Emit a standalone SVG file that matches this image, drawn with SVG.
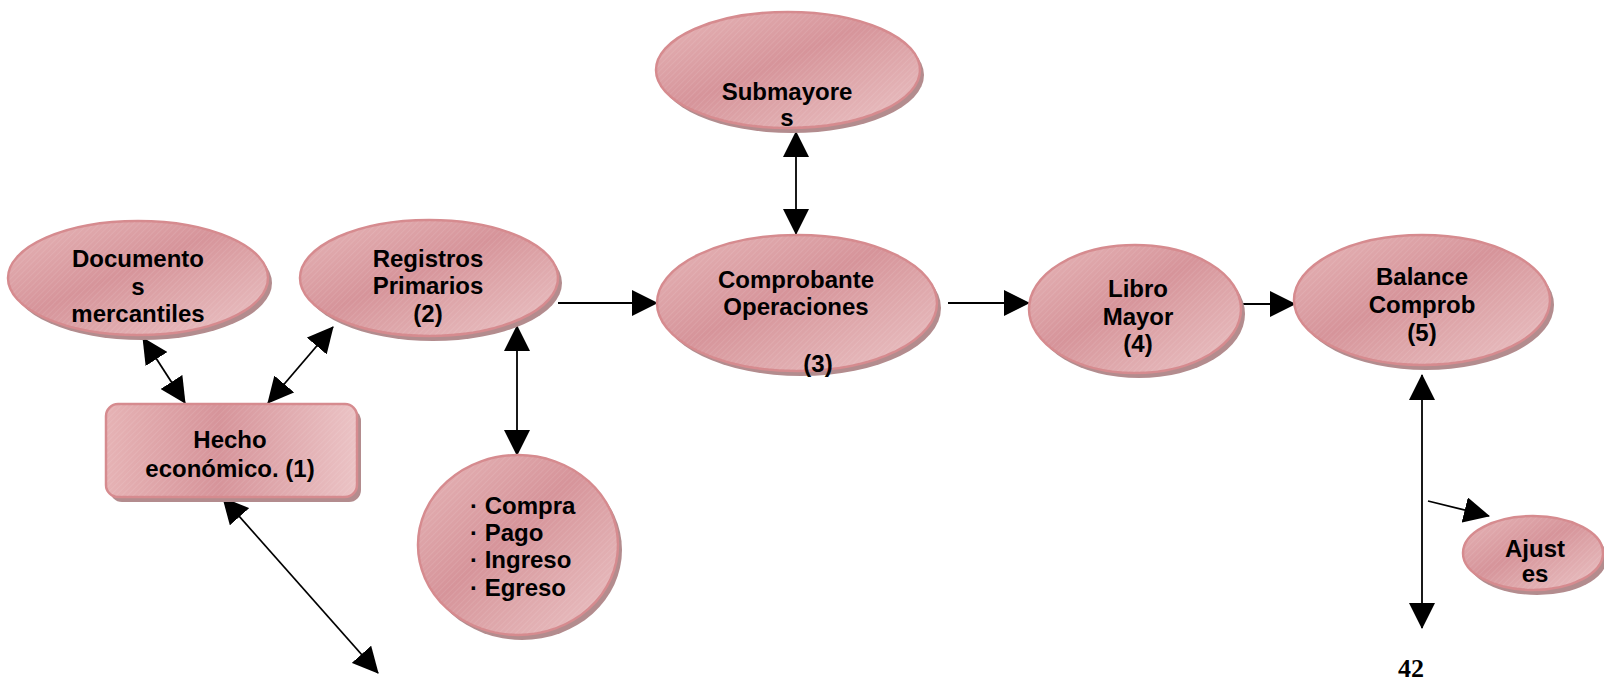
<svg xmlns="http://www.w3.org/2000/svg" width="1604" height="681" viewBox="0 0 1604 681">
<defs>
<linearGradient id="fillG" x1="0" y1="0" x2="1" y2="1">
<stop offset="0" stop-color="#e6b6b8"/>
<stop offset="0.45" stop-color="#d6949a"/>
<stop offset="0.6" stop-color="#dca2a6"/>
<stop offset="1" stop-color="#ebc4c6"/>
</linearGradient>
<linearGradient id="fillH" x1="0" y1="0" x2="1" y2="0">
<stop offset="0" stop-color="#e6b3b5"/>
<stop offset="0.45" stop-color="#d6949a"/>
<stop offset="1" stop-color="#ebc3c5"/>
</linearGradient>
<pattern id="hatch" width="4" height="4" patternUnits="userSpaceOnUse" patternTransform="rotate(45)">
<line x1="0" y1="0" x2="0" y2="4" stroke="#ffffff" stroke-width="1" stroke-opacity="0.18"/>
</pattern>
<marker id="ah" markerUnits="userSpaceOnUse" markerWidth="26" markerHeight="26" viewBox="0 0 26 26" refX="25" refY="13" orient="auto-start-reverse">
<path d="M0,0 L26,13 L0,26 z" fill="#000"/>
</marker>
</defs>
<style>
.sh{fill:#b38c8e}
.nd{fill:url(#fillG);stroke:#d68b8f;stroke-width:2.5}
.ht{fill:url(#hatch);stroke:none}
.tx{font-family:"Liberation Sans",Arial,sans-serif;font-weight:bold;font-size:24px;fill:#000;text-anchor:middle}
.tl{text-anchor:start}
.cn{stroke:#000;stroke-width:1.8;fill:none}
</style>

<g id="connectors">
<line class="cn" x1="143" y1="338" x2="185" y2="403" marker-start="url(#ah)" marker-end="url(#ah)"/>
<line class="cn" x1="268" y1="403" x2="333" y2="327" marker-start="url(#ah)" marker-end="url(#ah)"/>
<line class="cn" x1="558" y1="303" x2="657" y2="303" marker-end="url(#ah)"/>
<line class="cn" x1="517" y1="326" x2="517" y2="455" marker-start="url(#ah)" marker-end="url(#ah)"/>
<line class="cn" x1="796" y1="132" x2="796" y2="234" marker-start="url(#ah)" marker-end="url(#ah)"/>
<line class="cn" x1="948" y1="303" x2="1029" y2="303" marker-end="url(#ah)"/>
<line class="cn" x1="1240" y1="304" x2="1295" y2="304" marker-end="url(#ah)"/>
<line class="cn" x1="1422" y1="375" x2="1422" y2="628" marker-start="url(#ah)" marker-end="url(#ah)"/>
<line class="cn" x1="1428" y1="501" x2="1489" y2="516" marker-end="url(#ah)"/>
<line class="cn" x1="223" y1="498" x2="378" y2="673" marker-start="url(#ah)" marker-end="url(#ah)"/>
</g>

<g id="documentos">
<ellipse class="sh" cx="142" cy="283" rx="130" ry="57"/>
<ellipse class="nd" cx="138" cy="278" rx="130" ry="57"/>
<ellipse class="ht" cx="138" cy="278" rx="129" ry="56"/>
<text class="tx" x="138" y="267">Documento</text>
<text class="tx" x="138" y="295">s</text>
<text class="tx" x="138" y="322">mercantiles</text>
</g>

<g id="registros">
<ellipse class="sh" cx="433" cy="283" rx="129" ry="58"/>
<ellipse class="nd" cx="429" cy="278" rx="129" ry="58"/>
<ellipse class="ht" cx="429" cy="278" rx="128" ry="57"/>
<text class="tx" x="428" y="267">Registros</text>
<text class="tx" x="428" y="294">Primarios</text>
<text class="tx" x="428" y="322">(2)</text>
</g>

<g id="hecho">
<rect class="sh" x="110" y="409" width="251" height="93" rx="12"/>
<rect x="106" y="404" width="251" height="93" rx="12" fill="url(#fillH)" stroke="#d68b8f" stroke-width="2.5"/>
<rect class="ht" x="107" y="405" width="249" height="91" rx="11"/>
<text class="tx" x="230" y="448">Hecho</text>
<text class="tx" x="230" y="477">económico. (1)</text>
</g>

<g id="compra">
<ellipse class="sh" cx="522" cy="550" rx="100" ry="90"/>
<ellipse class="nd" cx="518" cy="545" rx="100" ry="90"/>
<ellipse class="ht" cx="518" cy="545" rx="99" ry="89"/>
<text class="tx tl" x="470" y="514">· Compra</text>
<text class="tx tl" x="470" y="541">· Pago</text>
<text class="tx tl" x="470" y="568">· Ingreso</text>
<text class="tx tl" x="470" y="596">· Egreso</text>
</g>

<g id="submayores">
<ellipse class="sh" cx="792" cy="75" rx="132" ry="58"/>
<ellipse class="nd" cx="788" cy="70" rx="132" ry="58"/>
<ellipse class="ht" cx="788" cy="70" rx="131" ry="57"/>
<text class="tx" x="787" y="100">Submayore</text>
<text class="tx" x="787" y="126">s</text>
</g>

<g id="comprobante">
<ellipse class="sh" cx="801" cy="308" rx="140" ry="68"/>
<ellipse class="nd" cx="797" cy="303" rx="140" ry="68"/>
<ellipse class="ht" cx="797" cy="303" rx="139" ry="67"/>
<text class="tx" x="796" y="288">Comprobante</text>
<text class="tx" x="796" y="315">Operaciones</text>
<text class="tx" x="818" y="372">(3)</text>
</g>

<g id="libro">
<ellipse class="sh" cx="1139" cy="314" rx="106" ry="64"/>
<ellipse class="nd" cx="1135" cy="309" rx="106" ry="64"/>
<ellipse class="ht" cx="1135" cy="309" rx="105" ry="63"/>
<text class="tx" x="1138" y="297">Libro</text>
<text class="tx" x="1138" y="325">Mayor</text>
<text class="tx" x="1138" y="352">(4)</text>
</g>

<g id="balance">
<ellipse class="sh" cx="1426" cy="305" rx="128" ry="65"/>
<ellipse class="nd" cx="1422" cy="300" rx="128" ry="65"/>
<ellipse class="ht" cx="1422" cy="300" rx="127" ry="64"/>
<text class="tx" x="1422" y="285">Balance</text>
<text class="tx" x="1422" y="313">Comprob</text>
<text class="tx" x="1422" y="341">(5)</text>
</g>

<g id="ajustes">
<ellipse class="sh" cx="1537" cy="558" rx="70" ry="37"/>
<ellipse class="nd" cx="1533" cy="553" rx="70" ry="37"/>
<ellipse class="ht" cx="1533" cy="553" rx="69" ry="36"/>
<text class="tx" x="1535" y="557">Ajust</text>
<text class="tx" x="1535" y="582">es</text>
</g>

<text x="1411" y="677" font-family="'Liberation Serif','Times New Roman',serif" font-weight="bold" font-size="26" text-anchor="middle" fill="#000">42</text>
</svg>
